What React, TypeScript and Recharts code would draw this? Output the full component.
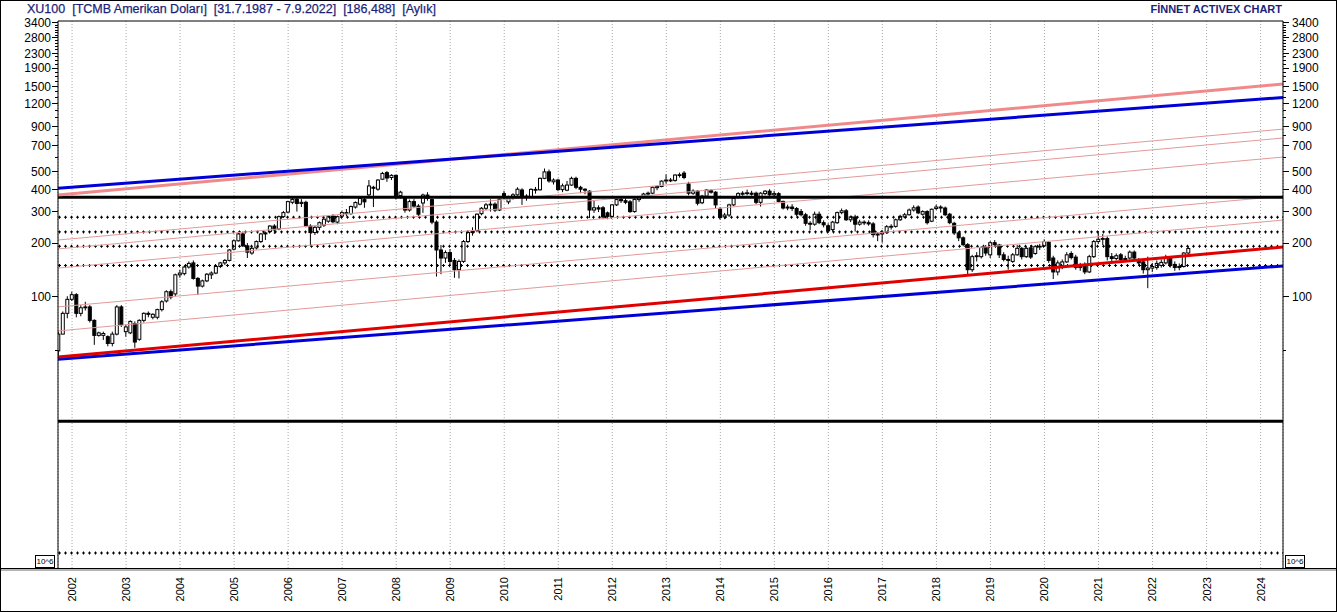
import { ComposedChart, Bar, XAxis, YAxis, CartesianGrid, ReferenceLine } from "recharts";

// ─── Data (USD-based XU100, monthly OHLC: [open, high, low, close]) ─────────

const Y2001 = [ // Oct–Dec
  [50, 64, 47, 62], [62, 83, 62, 81], [81, 101, 76, 97],
];
const Y2002 = [
  [97, 107, 95, 103], [103, 105, 77, 81], [81, 90, 78, 87], [87, 94, 84, 88],
  [88, 90, 72, 74], [74, 75, 54, 61], [61, 64, 60, 63], [61, 64, 57.5, 62.5],
  [60, 61, 53, 55], [55, 64, 53, 62], [62, 90, 61, 88], [88, 90, 68, 70],
];
const Y2003 = [
  [64, 70, 60, 68], [63, 74, 62, 73], [71, 73, 52, 56], [58, 75, 57, 74],
  [74, 82, 72, 81], [81, 83, 77, 80], [77, 81, 75, 80], [77, 86, 75, 85],
  [85, 96, 83, 94], [95, 109, 93, 107], [107, 110, 97, 100], [104, 135, 101, 133],
];
const Y2004 = [
  [133, 142, 128, 136], [135, 150, 132, 147], [147, 158, 144, 154], [155, 160, 125, 127],
  [127, 129, 103, 115], [115, 125, 113, 123], [123, 136, 121, 134], [133, 139, 126, 136],
  [136, 150, 134, 148], [148, 157, 145, 155], [155, 163, 151, 160], [160, 185, 158, 183],
];
const Y2005 = [
  [185, 210, 182, 206], [206, 230, 204, 225], [225, 232, 190, 193], [193, 200, 165, 178],
  [176, 192, 172, 187], [188, 207, 184, 204], [204, 228, 200, 225], [225, 232, 208, 228],
  [232, 252, 228, 249], [249, 255, 225, 237], [240, 285, 236, 281], [281, 302, 276, 296],
];
const Y2006 = [
  [298, 345, 294, 341], [338, 358, 330, 351], [351, 362, 300, 333], [333, 352, 318, 338],
  [338, 345, 245, 249], [249, 255, 193, 229], [229, 250, 222, 245], [245, 264, 236, 260],
  [252, 275, 246, 272], [265, 287, 260, 281], [283, 290, 258, 263], [262, 285, 255, 281],
];
const Y2007 = [
  [283, 303, 278, 296], [296, 310, 282, 292], [292, 324, 288, 320], [318, 342, 312, 337],
  [330, 360, 325, 355], [350, 360, 315, 340], [372, 450, 365, 417], [410, 418, 318, 405],
  [400, 455, 392, 450], [455, 500, 450, 490], [495, 505, 440, 462], [465, 485, 450, 478],
];
const Y2008 = [
  [478, 482, 350, 368], [368, 392, 355, 385], [360, 365, 296, 306], [306, 350, 300, 341],
  [341, 352, 315, 322], [322, 330, 283, 290], [335, 378, 295, 371], [371, 385, 345, 355],
  [350, 355, 255, 262], [262, 268, 130, 183], [183, 195, 134, 165], [165, 182, 155, 177],
];
const Y2009 = [
  [177, 185, 150, 158], [160, 165, 128, 142], [142, 162, 127, 158], [158, 208, 155, 204],
  [204, 235, 200, 229], [229, 245, 220, 232], [235, 293, 230, 290], [292, 318, 286, 313],
  [313, 335, 306, 327], [327, 351, 300, 330], [330, 338, 298, 306], [306, 355, 302, 351],
];
const Y2010 = [
  [378, 392, 352, 365], [340, 368, 330, 362], [362, 380, 350, 372], [372, 410, 368, 400],
  [396, 405, 327, 366], [366, 375, 345, 360], [362, 405, 358, 399], [399, 412, 378, 395],
  [397, 465, 393, 460], [460, 522, 455, 500], [500, 515, 435, 445], [440, 460, 425, 450],
];
const Y2011 = [
  [450, 458, 390, 398], [398, 430, 385, 418], [395, 445, 390, 422], [422, 470, 418, 460],
  [460, 470, 400, 410], [410, 418, 380, 400], [400, 405, 375, 395], [390, 395, 276, 306],
  [306, 345, 295, 315], [315, 325, 298, 310], [315, 322, 272, 280], [295, 300, 272, 282],
];
const Y2012 = [
  [282, 330, 276, 327], [327, 358, 322, 350], [350, 358, 335, 345], [345, 355, 330, 338],
  [340, 348, 295, 300], [300, 355, 296, 351], [350, 365, 340, 360], [360, 382, 355, 376],
  [376, 388, 368, 380], [380, 415, 375, 410], [408, 420, 395, 414], [414, 448, 410, 444],
];
const Y2013 = [
  [445, 484, 430, 450], [450, 462, 438, 448], [448, 485, 440, 480], [478, 495, 465, 482],
  [492, 505, 455, 465], [428, 440, 370, 380], [380, 400, 372, 390], [390, 395, 325, 334],
  [336, 372, 330, 366], [366, 400, 362, 396], [392, 400, 378, 385], [385, 390, 312, 327],
];
const Y2014 = [
  [310, 318, 270, 278], [280, 295, 272, 287], [287, 332, 280, 327], [327, 360, 322, 355],
  [360, 385, 355, 378], [375, 390, 368, 380], [380, 398, 370, 382], [380, 392, 368, 375],
  [380, 388, 330, 338], [338, 385, 320, 380], [378, 395, 370, 390], [390, 400, 360, 372],
];
const Y2015 = [
  [372, 392, 365, 378], [378, 385, 338, 342], [342, 345, 308, 314], [314, 328, 305, 318],
  [318, 330, 302, 312], [312, 318, 282, 290], [300, 310, 282, 288], [288, 295, 250, 258],
  [258, 265, 236, 255], [255, 300, 250, 290], [290, 300, 255, 260], [260, 268, 245, 253],
];
const Y2016 = [
  [250, 258, 228, 234], [238, 266, 232, 262], [260, 300, 256, 296], [296, 312, 290, 303],
  [303, 310, 266, 270], [270, 285, 262, 280], [280, 288, 232, 255], [255, 270, 250, 262],
  [262, 268, 252, 260], [260, 268, 250, 256], [256, 262, 215, 223], [222, 230, 205, 225],
];
const Y2017 = [
  [225, 237, 201, 230], [229, 252, 225, 247], [247, 255, 238, 248], [248, 274, 244, 270],
  [270, 288, 266, 282], [280, 295, 275, 288], [288, 312, 285, 306], [306, 325, 300, 315],
  [318, 325, 290, 295], [290, 305, 285, 300], [300, 305, 254, 260], [265, 312, 262, 309],
];
const Y2018 = [
  [312, 328, 306, 318], [318, 325, 296, 314], [314, 320, 283, 288], [290, 295, 255, 260],
  [258, 263, 222, 228], [228, 232, 205, 214], [214, 218, 192, 196], [196, 200, 133, 142],
  [142, 172, 138, 168], [168, 178, 158, 170], [168, 192, 164, 189], [189, 195, 170, 176],
];
const Y2019 = [
  [172, 205, 165, 201], [201, 208, 190, 196], [195, 198, 165, 172], [172, 178, 158, 162],
  [162, 170, 142, 160], [158, 176, 155, 172], [172, 195, 170, 187], [187, 190, 162, 168],
  [168, 192, 165, 187], [188, 195, 163, 167], [175, 195, 172, 191], [190, 198, 183, 192],
];
const Y2020 = [
  [193, 210, 190, 204], [202, 205, 155, 160], [165, 170, 126, 138], [138, 160, 132, 155],
  [147, 162, 143, 157], [157, 178, 155, 172], [175, 180, 162, 166], [167, 172, 142, 146],
  [146, 155, 140, 148], [150, 156, 134, 138], [138, 172, 136, 168], [168, 208, 165, 204],
];
const Y2021 = [
  [204, 233, 198, 210], [210, 225, 195, 212], [212, 218, 160, 168], [168, 176, 158, 164],
  [164, 175, 160, 170], [172, 176, 158, 162], [162, 170, 158, 164], [165, 182, 162, 178],
  [178, 182, 160, 165], [160, 165, 150, 155], [157, 162, 135, 142], [142, 168, 112, 145],
];
const Y2022 = [ // Jan–Sep
  [145, 155, 138, 148], [146, 160, 142, 154], [150, 162, 146, 156], [155, 172, 152, 164],
  [164, 168, 146, 150], [152, 158, 140, 146], [146, 154, 141, 148], [148, 178, 146, 176],
  [176, 192, 174, 186.5],
];

// [year, first month, rows]
const BLOCKS: [number, number, number[][]][] = [
  [2001, 10, Y2001], [2002, 1, Y2002], [2003, 1, Y2003], [2004, 1, Y2004],
  [2005, 1, Y2005], [2006, 1, Y2006], [2007, 1, Y2007], [2008, 1, Y2008],
  [2009, 1, Y2009], [2010, 1, Y2010], [2011, 1, Y2011], [2012, 1, Y2012],
  [2013, 1, Y2013], [2014, 1, Y2014], [2015, 1, Y2015], [2016, 1, Y2016],
  [2017, 1, Y2017], [2018, 1, Y2018], [2019, 1, Y2019], [2020, 1, Y2020],
  [2021, 1, Y2021], [2022, 1, Y2022],
];

const YEARS = [
  2002, 2003, 2004, 2005, 2006, 2007, 2008, 2009, 2010, 2011, 2012, 2013,
  2014, 2015, 2016, 2017, 2018, 2019, 2020, 2021, 2022, 2023, 2024,
];
const Y_MAJOR = [100, 200, 300, 400, 500, 700, 900, 1200, 1500, 1900, 2300, 2800, 3400];
const Y_MINOR = [
  50, 600, 800, 1000, 1100, 1300, 1400, 1600, 1700, 1800, 2000, 2100, 2200,
  2400, 2500, 2600, 2700, 2900, 3000, 3100, 3200, 3300,
];

// trend lines: value at left edge, value at right edge
const BLUE_TOP = [405, 1301];
const PINK_TOP = [371, 1549];
const PINK_THIN = [[208, 867], [185.5, 773], [145, 605], [88, 366], [64.6, 269]];
const RED_BOTTOM = [46.2, 190];
const BLUE_BOTTOM = [44.9, 149];

const BLACK_LEVELS = [361, 20.2];
const DOTTED_LEVELS = [279, 231, 192, 150, 3.71];

const X_MIN = 2001.74;
const X_MAX = 2024.415;
const Y_MIN = 3.02;
const Y_MAX = 3483;

const DATA = BLOCKS.flatMap(([year, first, rows]) =>
  rows.map(([o, h, l, c], i) => ({
    t: year + (first - 1 + i) / 12,
    o, h, l, c,
    range: [l, h],
  }))
);

const FONT = '"Liberation Sans", Arial, sans-serif';
const NAVY = "#1c1f78";
const TICK_SIZE = 6;

// ─── Candle shape (range bar low→high, body interpolated on the log scale) ─

function Candle(props: any) {
  const { x, y, width, height, payload } = props;
  if (x == null || y == null || !payload) return <g />;
  const top = Math.min(y, y + height);
  const bot = Math.max(y, y + height);
  const lh = Math.log(payload.h);
  const ll = Math.log(payload.l);
  const span = lh - ll || 1;
  const py = (v: number) => top + ((bot - top) * (lh - Math.log(v))) / span;
  const cx = x + width / 2;
  const bTop = py(Math.max(payload.o, payload.c));
  const bBot = py(Math.min(payload.o, payload.c));
  const up = payload.c >= payload.o;
  return (
    <g>
      <line x1={cx} x2={cx} y1={top} y2={bot} stroke="#000" strokeWidth={1} />
      <rect
        x={cx - 1.5}
        y={bTop}
        width={3}
        height={Math.max(bBot - bTop, 0.8)}
        fill={up ? "#fff" : "#000"}
        stroke="#000"
        strokeWidth={1}
      />
    </g>
  );
}

// ─── Axis ticks ───────────────────────────────────────────

function LeftTick({ x, y, payload }: any) {
  const major = Y_MAJOR.includes(payload.value);
  const edge = x + TICK_SIZE + 1;
  return (
    <g>
      <line x1={edge - (major ? 6 : 3)} x2={edge} y1={y} y2={y} stroke="#000" shapeRendering="crispEdges" />
      {major && (
        <text x={x} y={y} dy="0.36em" textAnchor="end" fontSize={12} fontFamily={FONT} fill="#000">
          {payload.value}
        </text>
      )}
    </g>
  );
}

function RightTick({ x, y, payload }: any) {
  const major = Y_MAJOR.includes(payload.value);
  const edge = x - TICK_SIZE - 3;
  return (
    <g>
      <line x1={edge} x2={edge + (major ? 6 : 3)} y1={y} y2={y} stroke="#000" shapeRendering="crispEdges" />
      {major && (
        <text x={x} y={y} dy="0.36em" textAnchor="start" fontSize={12} fontFamily={FONT} fill="#000">
          {payload.value}
        </text>
      )}
    </g>
  );
}

function YearTick({ x, y, payload }: any) {
  return (
    <text
      x={x}
      y={y}
      dy="0.36em"
      textAnchor="end"
      transform={`rotate(-90, ${x}, ${y})`}
      fontSize={11}
      fontFamily={FONT}
      fill="#000"
    >
      {payload.value}
    </text>
  );
}

function seg(v: number[]) {
  return [
    { x: X_MIN, y: v[0] },
    { x: X_MAX, y: v[1] },
  ];
}

// ─── Chart ────────────────────────────────────────────────

export default function App() {
  return (
    <div style={{ position: "relative", width: 1337, height: 612, background: "#fff", overflow: "hidden" }}>
      <style>{"body{margin:0}"}</style>

      <ComposedChart
        width={1337}
        height={612}
        data={DATA}
        margin={{ top: 21, right: 0, bottom: 0, left: 0 }}
      >
        <CartesianGrid vertical horizontal={false} stroke="#a8a8a8" strokeDasharray="1 2" />
        <XAxis
          type="number"
          dataKey="t"
          domain={[X_MIN, X_MAX]}
          allowDataOverflow
          ticks={YEARS}
          interval={0}
          height={43}
          tickSize={TICK_SIZE}
          tickMargin={2}
          tickLine={false}
          axisLine={false}
          tick={<YearTick />}
        />
        <YAxis
          yAxisId="left"
          orientation="left"
          scale="log"
          domain={[Y_MIN, Y_MAX]}
          allowDataOverflow
          ticks={[...Y_MAJOR, ...Y_MINOR]}
          interval={0}
          width={58}
          tickSize={TICK_SIZE}
          tickMargin={1}
          tickLine={false}
          axisLine={{ stroke: "#000" }}
          tick={<LeftTick />}
        />
        <YAxis
          yAxisId="right"
          orientation="right"
          scale="log"
          domain={[Y_MIN, Y_MAX]}
          allowDataOverflow
          ticks={[...Y_MAJOR, ...Y_MINOR]}
          interval={0}
          width={54}
          tickSize={TICK_SIZE}
          tickMargin={3}
          tickLine={false}
          axisLine={{ stroke: "#000" }}
          tick={<RightTick />}
        />

        {/* plot top border */}
        <ReferenceLine yAxisId="left" y={Y_MAX} stroke="#000" strokeWidth={1} ifOverflow="visible" />

        {/* dotted "+" levels: short dashes plus short vertical bars */}
        {DOTTED_LEVELS.map((v) => (
          <ReferenceLine key={`d1-${v}`} yAxisId="left" y={v} stroke="#000" strokeWidth={1} strokeDasharray="3 3" />
        ))}
        {DOTTED_LEVELS.map((v) => (
          <ReferenceLine key={`d2-${v}`} yAxisId="left" y={v} stroke="#000" strokeWidth={3} strokeDasharray="1 5" strokeDashoffset={-1} />
        ))}

        {PINK_THIN.map((v, i) => (
          <ReferenceLine key={`p-${i}`} yAxisId="left" segment={seg(v)} stroke="#e39a9a" strokeWidth={1} ifOverflow="visible" />
        ))}

        {BLACK_LEVELS.map((v) => (
          <ReferenceLine key={`b-${v}`} yAxisId="left" y={v} stroke="#000" strokeWidth={3} />
        ))}

        <ReferenceLine yAxisId="left" segment={seg(PINK_TOP)} stroke="#f08a8a" strokeWidth={3} ifOverflow="visible" />
        <ReferenceLine yAxisId="left" segment={seg(BLUE_TOP)} stroke="#0000d8" strokeWidth={3} ifOverflow="visible" />
        <ReferenceLine yAxisId="left" segment={seg(BLUE_BOTTOM)} stroke="#0000d8" strokeWidth={3} ifOverflow="visible" />
        <ReferenceLine yAxisId="left" segment={seg(RED_BOTTOM)} stroke="#e00000" strokeWidth={3} ifOverflow="visible" />

        <Bar
          yAxisId="left"
          dataKey="range"
          barSize={4}
          shape={(p: any) => <Candle {...p} />}
          isAnimationActive={false}
        />
      </ComposedChart>

      {/* titles */}
      <div
        style={{
          position: "absolute", left: 27, top: 2, fontFamily: FONT, fontSize: 12.5,
          lineHeight: "15px", color: NAVY, whiteSpace: "pre", WebkitTextStroke: "0.25px " + NAVY,
        }}
      >
        XU100  [TCMB Amerikan Doları]  [31.7.1987 - 7.9.2022]  [186,488]  [Aylık]
      </div>
      <div
        style={{
          position: "absolute", right: 1337 - 1282, top: 2, fontFamily: FONT, fontSize: 11,
          fontWeight: "bold", lineHeight: "15px", color: NAVY, whiteSpace: "pre",
        }}
      >
        FİNNET ACTIVEX CHART
      </div>

      {/* pane separator and volume-scale boxes */}
      <div style={{ position: "absolute", left: 0, top: 568, width: 1337, height: 1, background: "#000" }} />
      <div style={{ position: "absolute", left: 0, top: 569, width: 1337, height: 2, background: "#b4b4b4" }} />
      {[35, 1285].map((left) => (
        <div
          key={left}
          style={{
            position: "absolute", left, top: 555, width: 20, height: 13, boxSizing: "border-box",
            border: "1px solid #000", background: "#fff", fontFamily: FONT, fontSize: 8,
            lineHeight: "11px", textAlign: "center", color: "#000",
          }}
        >
          10^6
        </div>
      ))}

      {/* outer frame */}
      <div
        style={{
          position: "absolute", left: 0, top: 0, width: 1337, height: 612, boxSizing: "border-box",
          border: "1px solid #000", pointerEvents: "none",
        }}
      />
    </div>
  );
}
